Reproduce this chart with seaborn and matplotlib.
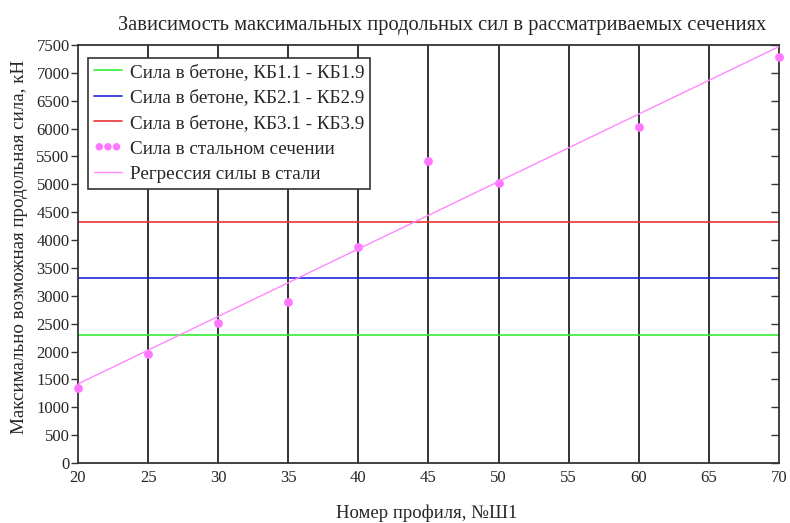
import matplotlib
matplotlib.use("Agg")
import pandas as pd
import seaborn as sns
import matplotlib.pyplot as plt
from matplotlib.ticker import MultipleLocator

# ---- данные ------------------------------------------------------------
profile = [20, 25, 30, 35, 40, 45, 50, 60, 70]
steel_force = [1350, 1950, 2510, 2880, 3880, 5420, 5030, 6020, 7290]
reg_x = [20, 70]
reg_y = [1420, 7470]
x_span = [20, 70]
kb1 = [2300, 2300]
kb2 = [3325, 3325]
kb3 = [4330, 4330]

sns.set_theme(style="white")
plt.rcParams["font.family"] = ["Liberation Serif", "DejaVu Serif"]

fig = plt.figure(figsize=(7.9, 5.23), dpi=100)
ax = fig.add_axes([0.0987, 0.1147, 0.8873, 0.7993])

# вертикальные линии сетки
for xv in range(25, 70, 5):
    ax.axvline(xv, color="#333333", lw=1.4, zorder=1)

lines = pd.DataFrame({"x": x_span, "kb1": kb1, "kb2": kb2, "kb3": kb3})
sns.lineplot(data=lines, x="x", y="kb1", color="#33ee33", lw=1.2, ax=ax,
             label="Сила в бетоне, КБ1.1 - КБ1.9", zorder=2)
sns.lineplot(data=lines, x="x", y="kb2", color="#2222dd", lw=1.2, ax=ax,
             label="Сила в бетоне, КБ2.1 - КБ2.9", zorder=2)
sns.lineplot(data=lines, x="x", y="kb3", color="#ee3333", lw=1.2, ax=ax,
             label="Сила в бетоне, КБ3.1 - КБ3.9", zorder=2)

pts = pd.DataFrame({"x": profile, "y": steel_force})
sns.scatterplot(data=pts, x="x", y="y", color="#ff77ff", s=40, linewidth=0,
                ax=ax, label="Сила в стальном сечении", zorder=3, clip_on=False)
reg = pd.DataFrame({"x": reg_x, "y": reg_y})
sns.lineplot(data=reg, x="x", y="y", color="#ff88ff", lw=1.0, ax=ax,
             label="Регрессия силы в стали", zorder=3)

ax.set_xlim(20, 70)
ax.set_ylim(0, 7500)
ax.xaxis.set_major_locator(MultipleLocator(5))
ax.yaxis.set_major_locator(MultipleLocator(500))
ax.tick_params(axis="y", which="major", direction="out", length=5, width=1,
               color="#333333", labelsize=12, pad=1)
ax.tick_params(axis="x", which="major", length=0, labelsize=12, pad=5)
for sp in ax.spines.values():
    sp.set_color("#333333")
    sp.set_linewidth(1.3)

# внутренние засечки справа
ax2 = ax.twinx()
ax2.set_ylim(0, 7500)
ax2.yaxis.set_major_locator(MultipleLocator(500))
ax2.tick_params(axis="y", direction="in", length=6, width=1, color="#333333",
                labelright=False)
ax2.spines[:].set_visible(False)
ax2.grid(False)

ax.set_title("Зависимость максимальных продольных сил в рассматриваемых сечениях",
             fontsize=14.8, pad=11, x=0.52)
ax.set_xlabel("Номер профиля, №Ш1", fontsize=13.5, va="center")
ax.xaxis.set_label_coords(0.497, -0.12)
ax.set_ylabel("Максимально возможная продольная сила, кН", fontsize=13.7, va="center")
ax.yaxis.set_label_coords(-0.083, 0.517)

leg = ax.legend(loc="upper left", bbox_to_anchor=(0.014, 0.969), fontsize=13.8,
                scatterpoints=3, scatteryoffsets=[0.5], markerscale=0.85,
                frameon=True, fancybox=False,
                borderpad=0.3, handlelength=1.5, handletextpad=0.4,
                labelspacing=0.42, borderaxespad=0)
leg.get_frame().set_edgecolor("#333333")
leg.get_frame().set_linewidth(1.2)
leg.get_frame().set_alpha(1)
leg.set_zorder(5)

fig.savefig("out.png", dpi=100)
